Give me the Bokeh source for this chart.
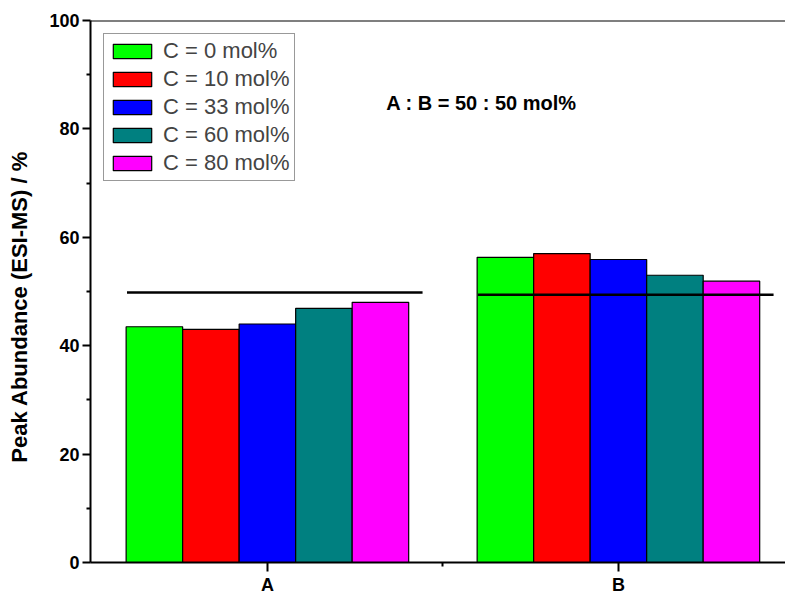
from bokeh.plotting import figure
from bokeh.models import Range1d, FixedTicker, Span, Label, Legend
from bokeh.embed import file_html
from bokeh.resources import INLINE

# ---- data ----
groups = ["A", "B"]
group_pos = [1, 2]
series_names = ["C = 0 mol%", "C = 10 mol%", "C = 33 mol%", "C = 60 mol%", "C = 80 mol%"]
series_colors = ["#00FF00", "#FF0000", "#0000FF", "#008080", "#FF00FF"]
vals_c0 = [43.5, 56.3]
vals_c10 = [43.0, 57.0]
vals_c33 = [44.0, 55.9]
vals_c60 = [46.9, 53.0]
vals_c80 = [48.0, 51.9]
series_values = [vals_c0, vals_c10, vals_c33, vals_c60, vals_c80]
ref_line_values = [49.8, 49.4]
y_ticks = [0, 20, 40, 60, 80, 100]

FONT = "Liberation Sans"

p = figure(
    output_backend="svg", toolbar_location=None,
    frame_width=695, frame_height=542,
    min_border_left=90, min_border_right=0, min_border_top=20, min_border_bottom=25,
    x_range=Range1d(0.496, 2.476), y_range=Range1d(0, 100),
)
p.outline_line_color = None
p.xgrid.visible = False
p.ygrid.visible = False
p.background_fill_color = "white"
p.border_fill_color = "white"

bar_w = 0.161
n = len(series_names)
renderers = []
for i, (name, color, vals) in enumerate(zip(series_names, series_colors, series_values)):
    off = (i - (n - 1) / 2) * bar_w
    xs = [g + off for g in group_pos]
    r = p.vbar(x=xs, top=vals, width=bar_w, bottom=0,
               fill_color=color, line_color="black", line_width=1.2)
    renderers.append((name, [r]))

# reference 50% lines
for g, v in zip(group_pos, ref_line_values):
    p.line(x=[g - 0.4, g + 0.442], y=[v, v], line_color="black", line_width=2.5)

# top frame line
p.add_layout(Span(location=100, dimension="width", line_color="black", line_width=2))

legend = Legend(items=renderers, location="top_left", margin=13,
                glyph_width=48, glyph_height=18, label_height=20, spacing=2,
                padding=4, label_standoff=7,
                label_text_font=FONT, label_text_font_size="22px",
                border_line_color="#333333", border_line_width=1,
                background_fill_alpha=1.0)
p.add_layout(legend)

p.add_layout(Label(x=1.61, y=84.7, text="A : B = 50 : 50 mol%", text_align="center",
                   text_baseline="middle", text_font=FONT, text_font_size="20px",
                   text_font_style="bold", text_color="black"))

# axes
xa = p.xaxis[0]
xa.ticker = FixedTicker(ticks=group_pos, minor_ticks=[1.5])
xa.major_label_overrides = {1: "A", 2: "B"}
xa.axis_line_width = 2
xa.axis_line_color = "black"
xa.major_tick_out = 9
xa.major_tick_in = 0
xa.minor_tick_out = 4
xa.minor_tick_in = 0
xa.major_tick_line_width = 2
xa.minor_tick_line_width = 2
xa.major_tick_line_color = "black"
xa.minor_tick_line_color = "black"
xa.major_label_text_font = FONT
xa.major_label_text_font_size = "18px"
xa.major_label_text_font_style = "bold"
xa.major_label_text_color = "black"
xa.major_label_standoff = 3

ya = p.yaxis[0]
ya.ticker = FixedTicker(ticks=y_ticks, minor_ticks=[10, 30, 50, 70, 90])
ya.axis_line_width = 2
ya.axis_line_color = "black"
ya.major_tick_out = 8
ya.major_tick_in = 0
ya.minor_tick_out = 4
ya.minor_tick_in = 0
ya.major_tick_line_width = 2
ya.minor_tick_line_width = 2
ya.major_tick_line_color = "black"
ya.minor_tick_line_color = "black"
ya.major_label_text_font = FONT
ya.major_label_text_font_size = "18px"
ya.major_label_text_font_style = "bold"
ya.major_label_text_color = "black"
ya.major_label_standoff = 3
# trailing no-break spaces shift the title slightly below the frame centre, as in the reference
ya.axis_label = "Peak Abundance (ESI-MS) / %" + "\u00a0" * 5
ya.axis_label_text_font = FONT
ya.axis_label_text_font_size = "22px"
ya.axis_label_text_font_style = "bold"
ya.axis_label_text_color = "black"
ya.axis_label_standoff = 14

open("out.html", "w").write(file_html(p, INLINE))
